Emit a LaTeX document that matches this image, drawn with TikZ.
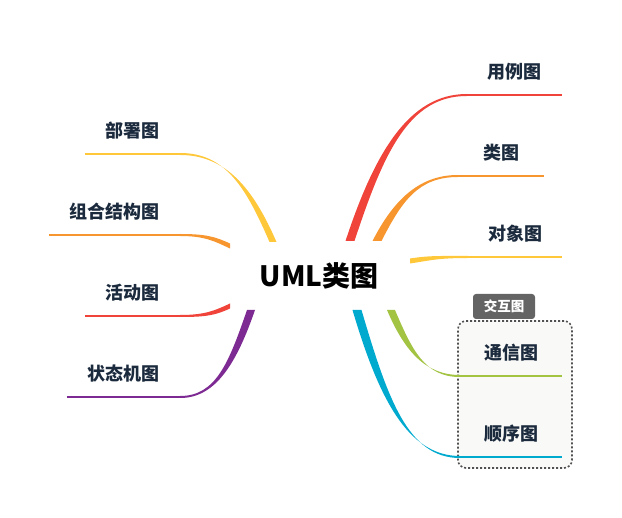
\documentclass[tikz,border=0pt]{standalone}
\usepackage{fontspec}
\setmainfont{Noto Sans CJK SC}
\usetikzlibrary{calc}
\definecolor{cred}{HTML}{F0433A}
\definecolor{corange}{HTML}{F7962E}
\definecolor{cyellow}{HTML}{FFC83A}
\definecolor{cgreen}{HTML}{A3C343}
\definecolor{cblue}{HTML}{00AACF}
\definecolor{cpurple}{HTML}{7E2A93}
\definecolor{inkblue}{HTML}{1B2A3D}
\definecolor{boxgray}{HTML}{505050}
\definecolor{boxfill}{HTML}{F9F9F7}
\definecolor{tabgray}{HTML}{646464}
% tapered branch: colour, start, end anchor, half width at start, start and end controls
\newcommand\twig[6]{%
  \fill [#1] ($(#2)-(#4)$) .. controls +(#5) and +(#6) .. ($(#3)+(0,-1)$)
    -- ($(#3)+(0,1)$) .. controls +(#6) and +(#5) .. ($(#2)+(#4)$) -- cycle;}
\begin{document}
\begin{tikzpicture}[x=1pt, y=-1pt,
    topic/.style={anchor=south, inner sep=0pt, minimum height=46, text=inkblue,
      font=\bfseries\fontsize{18}{21}\selectfont},
    uline/.style={line width=1.8pt}]
  \useasboundingbox (0,0) rectangle (622,518);
  % interaction group
  \node [draw=boxgray, fill=boxfill, dash pattern=on 2pt off 2pt, line width=1.6pt,
    rounded corners=8pt, minimum width=114, minimum height=147] (group) at (515,394.5) {};
  \node [fill=tabgray, text=white, rounded corners=3pt, minimum width=62, minimum height=25,
    inner sep=0pt, anchor=south, font=\bfseries\fontsize{13.5}{15}\selectfont]
    (grouptab) at ($(group.north)+(-11,-1)$) {交互图};
  % centre
  \node [font=\bfseries\fontsize{28}{32}\selectfont] (uml) at (319,276) {UML类图};
  % right topics
  \node [topic, minimum width=95] (yongli) at (514.5,95) {用例图};
  \node [topic, minimum width=86] (lei) at (501,176) {类图};
  \node [topic, minimum width=94] (duixiang) at (515,257) {对象图};
  \node [topic, minimum width=102] (tongxin) at (511,376) {通信图};
  \node [topic, minimum width=102] (shunxu) at (511,457) {顺序图};
  % left topics
  \node [topic, minimum width=95] (bushu) at (132.5,154) {部署图};
  \node [topic, minimum width=131] (zuhe) at (114.5,235) {组合结构图};
  \node [topic, minimum width=95] (huodong) at (132.5,316) {活动图};
  \node [topic, minimum width=113] (zhuangtai) at (123.5,397) {状态机图};
  \foreach \n/\c in {yongli/cred, lei/corange, duixiang/cyellow, tongxin/cgreen,
      shunxu/cblue, bushu/cyellow, zuhe/corange, huodong/cred, zhuangtai/cpurple}
    \draw [uline, \c] (\n.south west) -- (\n.south east);
  % branch roots
  \coordinate (r1) at (350,241);
  \coordinate (r2) at (377,241);
  \coordinate (r3) at (410,261);
  \coordinate (r4) at (391,310);
  \coordinate (r5) at (357,310);
  \coordinate (l1) at (273,242);
  \coordinate (l2) at (230,246);
  \coordinate (l3) at (230,306);
  \coordinate (l4) at (251,310);
  \twig{cred}{r1}{yongli.south west}{4.5,0}{29,-88}{-58,0}
  \twig{corange}{r2}{lei.south west}{4.5,0}{20,-39}{-40,0}
  \twig{cyellow}{r3}{duixiang.south west}{0,2.5}{20,-3}{-30,0}
  \twig{cgreen}{r4}{tongxin.south west}{4,0}{17,40}{-35,0}
  \twig{cblue}{r5}{shunxu.south west}{4.5,0}{26,88}{-52,0}
  \twig{cyellow}{l1}{bushu.south east}{3.5,0}{-23,-53}{46,0}
  \twig{corange}{l2}{zuhe.south east}{0,2.5}{-15,-7}{25,0}
  \twig{cred}{l3}{huodong.south east}{0,2.5}{-15,7}{25,0}
  \twig{cpurple}{l4}{zhuangtai.south east}{4,0}{-18,52}{36,0}
\end{tikzpicture}
\end{document}
